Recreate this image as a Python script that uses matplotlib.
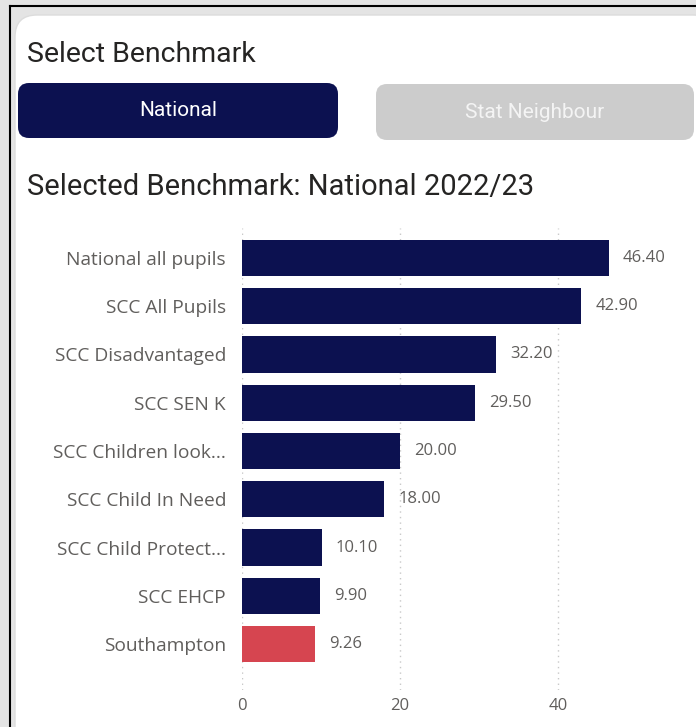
import matplotlib
matplotlib.use('Agg')
import matplotlib.pyplot as plt
from matplotlib.patches import FancyBboxPatch

categories = ["National all pupils", "SCC All Pupils", "SCC Disadvantaged", "SCC SEN K",
              "SCC Children look...", "SCC Child In Need", "SCC Child Protect...",
              "SCC EHCP", "Southampton"]
values = [46.40, 42.90, 32.20, 29.50, 20.00, 18.00, 10.10, 9.90, 9.26]
bar_colors = ["#0c1150"] * 8 + ["#d64550"]
x_ticks = [0, 20, 40]

W, H = 696, 727
fig = plt.figure(figsize=(W / 100, H / 100), dpi=100)
fig.patch.set_facecolor("#e4e4e4")

# page layer in pixel coords
bg = fig.add_axes([0, 0, 1, 1])
bg.set_xlim(0, W)
bg.set_ylim(H, 0)
bg.axis("off")
bg.add_patch(FancyBboxPatch((15, 15), 700, 760, boxstyle="round,pad=0,rounding_size=22",
                            fc="white", ec="#dcdcdc", lw=1))
bg.plot([10, W], [6, 6], color="black", lw=1.5)
bg.plot([10, 10], [6, H], color="black", lw=1.5)

ui_font = ["Roboto", "DejaVu Sans"]
lab_font = ["Open Sans", "DejaVu Sans"]

bg.text(27, 55, "Select Benchmark", fontsize=20.5, color="#252423", family=ui_font, va="center")
bg.add_patch(FancyBboxPatch((18, 83), 320, 55, boxstyle="round,pad=0,rounding_size=11",
                            fc="#0c1150", ec="none"))
bg.text(178, 111, "National", fontsize=15, color="white", family=ui_font, ha="center", va="center")
bg.add_patch(FancyBboxPatch((376, 84), 318, 56, boxstyle="round,pad=0,rounding_size=11",
                            fc="#cccccc", ec="none"))
bg.text(535, 113, "Stat Neighbour", fontsize=15, color="#f4f4f4", family=ui_font, ha="center", va="center")
bg.text(27, 187, "Selected Benchmark: National 2022/23", fontsize=21, color="#252423",
        family=ui_font, va="center")

# chart
ax = fig.add_axes([242 / W, 1 - 690 / H, 395 / W, (690 - 228) / H])
ax.patch.set_alpha(0)
y = range(len(categories))
ax.barh(y, values, height=0.75, color=bar_colors, zorder=3)
ax.set_ylim(8.95, -0.62)
ax.set_xlim(0, 50)
ax.set_yticks(list(y))
ax.set_yticklabels(categories, fontsize=13.8, color="#605e5c", family=lab_font)
ax.set_xticks(x_ticks)
ax.set_xticklabels([str(t) for t in x_ticks], fontsize=12, color="#605e5c", family=lab_font)
ax.tick_params(length=0)
ax.tick_params(axis="y", pad=11.5)
ax.tick_params(axis="x", pad=6)
for s in ax.spines.values():
    s.set_visible(False)
ax.grid(axis="x", linestyle=(0, (1, 3)), color="#c8c8c8", lw=1, zorder=0)
for i, v in enumerate(values):
    ax.text(v + 1.8, i, "%.2f" % v, fontsize=12, color="#605e5c", family=lab_font,
            va="center", ha="left")

fig.savefig("out.png", dpi=100)
